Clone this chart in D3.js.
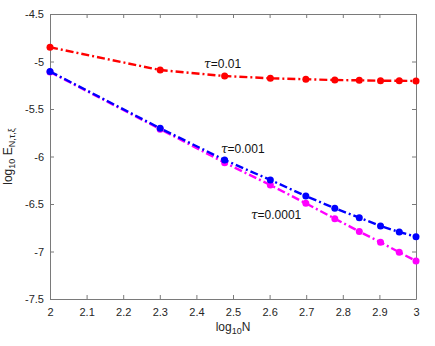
<!DOCTYPE html>
<html>
<head>
<meta charset="utf-8">
<script src="https://cdn.jsdelivr.net/npm/d3@7"></script>
<style>
  body { margin: 0; background: #fff; }
  text { font-family: "Liberation Sans", Arial, sans-serif; }
</style>
</head>
<body>
<div id="viz-container"></div>
<script>
// log10 N for N = 100, 200, ..., 1000
const logN = [100, 200, 300, 400, 500, 600, 700, 800, 900, 1000].map(n => Math.log10(n));

// log10 error per tau
const errTau001 = [-4.85, -5.09, -5.153, -5.177, -5.187, -5.195, -5.198, -5.202, -5.203, -5.205];
const errTau0001 = [-5.105, -5.703, -6.037, -6.247, -6.416, -6.545, -6.644, -6.732, -6.795, -6.844];
const errTau00001 = [-5.11, -5.712, -6.065, -6.30, -6.493, -6.654, -6.79, -6.903, -7.008, -7.10];

const xTicks = [2, 2.1, 2.2, 2.3, 2.4, 2.5, 2.6, 2.7, 2.8, 2.9, 3];
const yTicks = [-7.5, -7, -6.5, -6, -5.5, -5, -4.5];

const series = [
    { name: "0.01", values: errTau001, color: "#ff0000" },
    { name: "0.0001", values: errTau00001, color: "#ff00ff" },
    { name: "0.001", values: errTau0001, color: "#0000ff" }
];

const W = 435, H = 346;
const margin = { top: 14, right: 19, bottom: 47, left: 50 },
    width = W - margin.left - margin.right,
    height = H - margin.top - margin.bottom;

const svg = d3.select("#viz-container")
    .append("svg")
    .attr("width", W)
    .attr("height", H);

const chart = svg.append("g")
    .attr("transform", `translate(${margin.left},${margin.top})`);

const x = d3.scaleLinear().domain([2, 3]).range([0, width]);
const y = d3.scaleLinear().domain([-7.5, -4.5]).range([height, 0]);

const axisColor = "#7a7a7a";
const labelColor = "#262626";

// axes with inward ticks, box on all sides
function styleAxis(g) {
    g.select(".domain").attr("stroke", axisColor);
    g.selectAll(".tick line").attr("stroke", axisColor);
    g.selectAll(".tick text")
        .attr("fill", labelColor)
        .attr("font-size", "11px")
        .attr("font-family", "Liberation Sans, Arial, sans-serif");
}

chart.append("g")
    .attr("transform", `translate(0,${height})`)
    .call(d3.axisBottom(x).tickValues(xTicks).tickSize(-4).tickSizeOuter(0)
        .tickPadding(9).tickFormat(d3.format("")))
    .call(styleAxis);

chart.append("g")
    .call(d3.axisLeft(y).tickValues(yTicks).tickSize(-4).tickSizeOuter(0)
        .tickPadding(6).tickFormat(d => String(d)))
    .call(styleAxis)
    .selectAll(".tick text").attr("dy", "0.32em");

chart.append("g")
    .call(d3.axisTop(x).tickValues(xTicks).tickSize(-4).tickSizeOuter(0).tickFormat(""))
    .call(styleAxis);

chart.append("g")
    .attr("transform", `translate(${width},0)`)
    .call(d3.axisRight(y).tickValues(yTicks).tickSize(-4).tickSizeOuter(0).tickFormat(""))
    .call(styleAxis);

// lines
const line = d3.line()
    .x((d, i) => x(logN[i]))
    .y(d => y(d));

series.forEach(s => {
    chart.append("path")
        .datum(s.values)
        .attr("fill", "none")
        .attr("stroke", s.color)
        .attr("stroke-width", 2.4)
        .attr("stroke-dasharray", "8,3,2,3")
        .attr("d", line);

    chart.selectAll(null)
        .data(s.values)
        .enter()
        .append("circle")
        .attr("cx", (d, i) => x(logN[i]))
        .attr("cy", d => y(d))
        .attr("r", 3.5)
        .attr("fill", s.color);
});

// tau labels
const tauLabels = [
    { text: "0.01", lx: 2.421, ly: -5.07 },
    { text: "0.001", lx: 2.467, ly: -5.96 },
    { text: "0.0001", lx: 2.549, ly: -6.655 }
];

tauLabels.forEach(t => {
    const tx = chart.append("text")
        .attr("x", x(t.lx))
        .attr("y", y(t.ly))
        .attr("font-size", "12px")
        .attr("fill", "#111");
    tx.append("tspan").attr("font-style", "italic").attr("font-family", "DejaVu Serif, serif").text("τ");
    tx.append("tspan").text("=" + t.text);
});

// axis titles
const xt = svg.append("text")
    .attr("x", margin.left + width / 2)
    .attr("y", 331)
    .attr("text-anchor", "middle")
    .attr("font-size", "12px")
    .attr("fill", labelColor);
xt.append("tspan").text("log");
xt.append("tspan").attr("font-size", "9px").attr("dy", 3).text("10");
xt.append("tspan").attr("dy", -3).text("N");

const yt = svg.append("text")
    .attr("transform", `translate(12,${margin.top + height / 2}) rotate(-90)`)
    .attr("text-anchor", "middle")
    .attr("font-size", "12px")
    .attr("fill", labelColor);
yt.append("tspan").text("log");
yt.append("tspan").attr("font-size", "9px").attr("dy", 3).text("10");
yt.append("tspan").attr("dy", -3).text(" E");
yt.append("tspan").attr("font-size", "9px").attr("dy", 3).text("N,τ,ξ");
</script>
</body>
</html>
